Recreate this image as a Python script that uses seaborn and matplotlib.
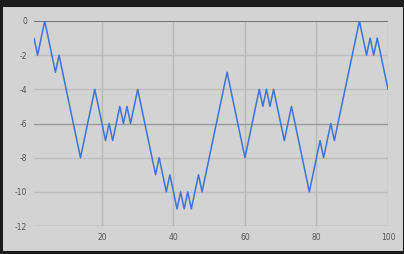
import numpy as np
import pandas as pd
import matplotlib
matplotlib.use("Agg")
import matplotlib.pyplot as plt
import seaborn as sns
from matplotlib.patches import Rectangle

# ---- data ----
steps = list(range(1, 101))
values = [-1, -2, -1, 0, -1, -2, -3, -2, -3, -4,
          -5, -6, -7, -8, -7, -6, -5, -4, -5, -6,
          -7, -6, -7, -6, -5, -6, -5, -6, -5, -4,
          -5, -6, -7, -8, -9, -8, -9, -10, -9, -10,
          -11, -10, -11, -10, -11, -10, -9, -10, -9, -8,
          -7, -6, -5, -4, -3, -4, -5, -6, -7, -8,
          -7, -6, -5, -4, -5, -4, -5, -4, -5, -6,
          -7, -6, -5, -6, -7, -8, -9, -10, -9, -8,
          -7, -8, -7, -6, -7, -6, -5, -4, -3, -2,
          -1, 0, -1, -2, -1, -2, -1, -2, -3, -4]
x_ticks = [20, 40, 60, 80, 100]
y_ticks = [0, -2, -4, -6, -8, -10, -12]

df = pd.DataFrame({"step": steps, "value": values})

sns.set_style("white")
W, H = 404, 254
fig = plt.figure(figsize=(W / 100, H / 100), dpi=100)
fig.patch.set_facecolor("#1c1c1c")
panel = Rectangle((3 / W, 4 / H), (401.5 - 3) / W, (247 - 4) / H,
                  transform=fig.transFigure, facecolor="#d3d3d3",
                  edgecolor="#e2e2e2", linewidth=0.6, zorder=-10)
fig.add_artist(panel)

ax = fig.add_axes([34 / W, 1 - 226 / H, (388 - 34) / W, (226 - 21) / H])
ax.set_zorder(5)
ax.set_facecolor("#d3d3d3")

for xv in x_ticks:
    ax.axvline(xv, color="#b8b8b8", lw=1.0, zorder=1)
for yv in y_ticks:
    c = "#bdbdbd"
    if yv == -6:
        c = "#9a9a9a"
    if yv == -12:
        c = "#aaaaaa"
    ax.axhline(yv, color=c, lw=1.0, zorder=1)
ax.axhline(0, color="#6a6a6a", lw=1.2, zorder=1)

sns.lineplot(data=df, x="step", y="value", ax=ax, color="#3d74d6",
             linewidth=1.1, zorder=3)

ax.set_xlim(1, 100)
ax.set_ylim(-12, 0)
ax.set_xticks(x_ticks)
ax.set_yticks(y_ticks)
ax.set_xticklabels([str(v) for v in x_ticks])
ax.set_yticklabels([str(v) for v in y_ticks])
ax.tick_params(axis="both", length=0, labelsize=5.5, colors="#555555")
ax.tick_params(axis="x", pad=5)
ax.tick_params(axis="y", pad=5)
ax.set_xlabel("")
ax.set_ylabel("")
for s in ax.spines.values():
    s.set_visible(False)

fig.savefig("out.png", dpi=100, facecolor=fig.get_facecolor())
